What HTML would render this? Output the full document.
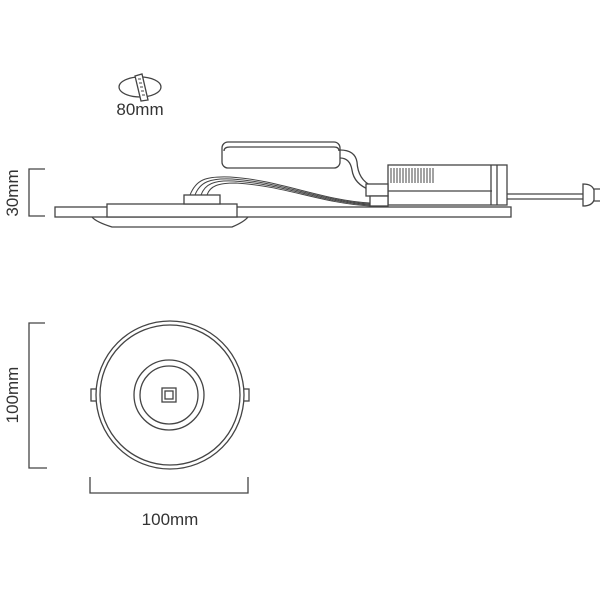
<!DOCTYPE html>
<html><head><style>
html,body{margin:0;padding:0;background:#fff;}
svg{display:block;}
text{font-family:"Liberation Sans",sans-serif;fill:#333;}
</style></head><body>
<svg width="600" height="600" viewBox="0 0 600 600" xmlns="http://www.w3.org/2000/svg">
<g fill="none" stroke="#444" stroke-width="1.3">
<!-- top icon -->
<ellipse cx="140" cy="87" rx="21" ry="10"/>
<path d="M135,76 L142,74 L148,100 L141,101 Z" fill="#fff"/>
<path d="M138,79 l3,0 M139,83 l3,0 M140,87 l3,0 M141,91 l3,0 M142,95 l3,0" stroke-width="1"/>

<!-- 30mm bracket -->
<path d="M45,169 H29 V216 H45"/>
<!-- side view -->
<rect x="55" y="207" width="456" height="10" fill="#fff"/>
<path d="M92,217 Q96,222 112,227 H232 Q244,222 248,217" />
<rect x="107" y="204" width="130" height="13" fill="#fff"/>
<rect x="184" y="195" width="36" height="9" fill="#fff"/>
<!-- wires -->
<path d="M190,195 C196,180 205,176 230,177 C280,180 320,200 370,203" stroke-width="1"/>
<path d="M195,195 C200,182 210,178 232,179 C282,182 320,201 370,204" stroke-width="1"/>
<path d="M201,195 C205,184 214,180 234,181 C284,184 320,202 370,205" stroke-width="1"/>
<path d="M207,195 C210,186 218,183 236,183 C286,186 320,203 370,206" stroke-width="1"/>
<!-- upper box -->
<rect x="222" y="142" width="118" height="26" rx="6" fill="#fff"/>
<path d="M224,151 Q224,147 230,147 H334 Q339,147 339,151"/>
<path d="M340,150 Q355,150 357,162 Q358,180 372,186" />
<path d="M340,158 Q350,158 352,170 Q354,184 370,190" />
<!-- driver -->
<rect x="388" y="165" width="119" height="40" fill="#fff"/>
<path d="M388,191 H492"/>
<path d="M491,165 V205 M497,165 V205"/>
<rect x="366" y="184" width="22" height="12" fill="#fff"/>
<rect x="370" y="196" width="18" height="10" fill="#fff"/>
<g stroke-width="1">
<path d="M391,168 V183 M394,168 V183 M397,168 V183 M400,168 V183 M403,168 V183 M406,168 V183 M409,168 V183 M412,168 V183 M415,168 V183 M418,168 V183 M421,168 V183 M424,168 V183 M427,168 V183 M430,168 V183 M433,168 V183"/>
</g>
<path d="M507,194 H583 M507,199 H583"/>
<path d="M583,184 Q592,184 594,190 V200 Q592,206 583,206 Z" fill="#fff"/>
<path d="M594,189 H600 M594,201 H600"/>

<!-- plan view -->
<path d="M45,323 H29 V468 H47"/>
<path d="M90,477 V493 H248 V477"/>
<rect x="91" y="389" width="6" height="12"/>
<rect x="243" y="389" width="6" height="12"/>
<circle cx="170" cy="395" r="74" fill="#fff"/>
<circle cx="170" cy="395" r="70"/>
<circle cx="169" cy="395" r="35"/>
<circle cx="169" cy="395" r="29"/>
<rect x="162" y="388" width="14" height="14"/>
<rect x="165" y="391" width="8" height="8"/>
</g>
<text x="140" y="115" font-size="17" text-anchor="middle">80mm</text>
<text x="170" y="525" font-size="17" text-anchor="middle">100mm</text>
<text transform="translate(18,193) rotate(-90)" font-size="17" text-anchor="middle">30mm</text>
<text transform="translate(18,395) rotate(-90)" font-size="17" text-anchor="middle">100mm</text>
</svg>
</body></html>
